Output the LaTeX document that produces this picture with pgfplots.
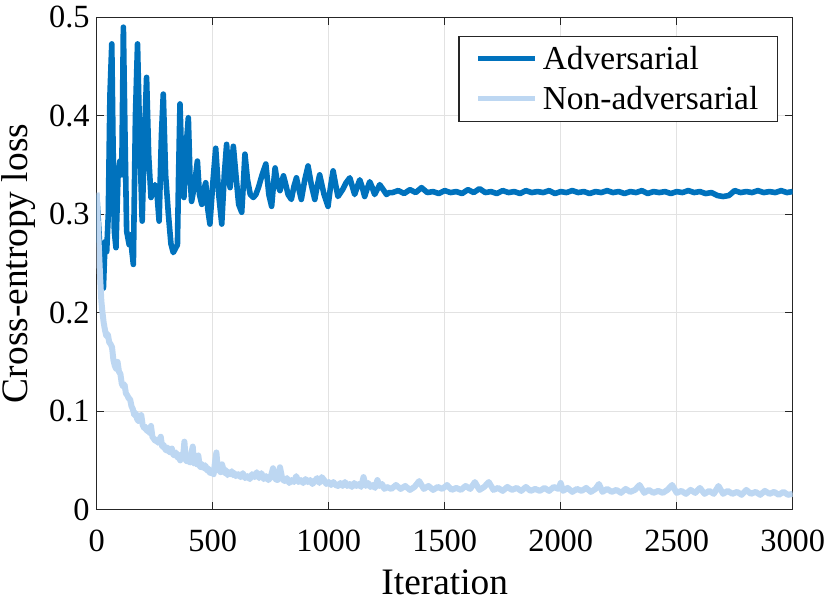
\documentclass[border=0pt]{standalone}
\usepackage{fontspec}
\setmainfont{Liberation Serif}
\setsansfont{Liberation Serif}
\renewcommand{\familydefault}{\rmdefault}
\usepackage{pgfplots}
\pgfplotsset{compat=1.18}
\definecolor{advblue}{RGB}{0,114,189}
\definecolor{nonblue}{RGB}{189,215,242}
\definecolor{axgray}{RGB}{38,38,38}
\definecolor{gridgray}{RGB}{226,226,226}
\begin{document}
\begin{tikzpicture}
\begin{axis}[
  width=348bp, height=246.15bp, scale only axis,
  xmin=0, xmax=3000, ymin=0, ymax=0.5,
  xtick={0,500,1000,1500,2000,2500,3000},
  ytick={0,0.1,0.2,0.3,0.4,0.5},
  scaled x ticks=false, scaled y ticks=false,
  /pgf/number format/1000 sep={},
  /pgf/number format/assume math mode=true,
  tick label style={font=\rmfamily\fontsize{16.25}{19}\selectfont},
  label style={font=\rmfamily\fontsize{18.75}{22}\selectfont},
  xticklabel style={anchor=base, yshift=-21bp},
  xlabel={Iteration}, ylabel={Cross-entropy loss},
  xlabel style={at={(axis description cs:0.5,-0.1728)}, anchor=base},
  ylabel style={at={(axis description cs:-0.0991,0.5)}, anchor=base},
  grid=major, major grid style={gridgray, line width=0.5bp},
  axis line style={axgray, line width=0.6bp},
  tick style={axgray, line width=0.6bp},
  major tick length=3.8bp, tick align=inside,
  legend cell align=left,
  legend style={at={(axis description cs:0.979,0.963)}, anchor=north east,
    draw=axgray, line width=0.6bp, inner xsep=8.3bp, inner ysep=1.25bp,
    font=\rmfamily\fontsize{16.8}{20}\selectfont, row sep=0bp,
    nodes={inner xsep=1.25bp, inner ysep=2bp, text height=13.6bp, text depth=2.4bp},
    /tikz/every odd column/.append style={column sep=1.25bp}},
  legend image code/.code={\draw[#1, line width=2.6bp] (0bp,0bp) -- (28.5bp,0bp);},
]
\coordinate (bl) at (rel axis cs:0,0);
\coordinate (tr) at (rel axis cs:1,1);
\addplot[advblue, line width=2.8bp, line join=round] coordinates {
(0,0.320) (8,0.290) (16,0.255) (24,0.228) (29,0.225) (36,0.272) (43,0.262) (50,0.300)
(57,0.420) (65,0.473) (70,0.380) (76,0.283) (83,0.266) (92,0.340) (100,0.354) (108,0.340)
(115,0.490) (122,0.380) (129,0.283) (140,0.269) (146,0.279) (152,0.262) (158,0.249)
(167,0.400) (176,0.473) (185,0.380) (196,0.293) (206,0.380) (215,0.439) (224,0.360)
(234,0.317) (251,0.330) (259,0.324) (269,0.293) (279,0.380) (287,0.422) (297,0.340)
(309,0.300) (320,0.270) (330,0.261) (348,0.269) (353,0.340) (359,0.412) (367,0.350)
(376,0.317) (386,0.370) (395,0.398) (402,0.340) (409,0.313) (422,0.330) (434,0.354)
(443,0.320) (453,0.310) (462,0.325) (470,0.332) (479,0.305) (488,0.290) (500,0.330)
(513,0.367) (526,0.320) (539,0.290) (550,0.340) (560,0.371) (568,0.340) (575,0.327)
(582,0.350) (589,0.369) (600,0.340) (612,0.310) (625,0.302) (632,0.330) (639,0.361)
(650,0.335) (662,0.320) (675,0.317) (686,0.320) (697,0.327) (713,0.340) (729,0.351)
(742,0.320) (754,0.308) (762,0.330) (769,0.347) (780,0.330) (790,0.324) (797,0.332)
(805,0.339) (815,0.330) (825,0.320) (839,0.315) (850,0.328) (861,0.337) (872,0.325)
(882,0.315) (897,0.335) (911,0.349) (925,0.330) (940,0.315) (950,0.328) (961,0.340)
(980,0.320) (997,0.308) (1008,0.328) (1019,0.344) (1030,0.330) (1040,0.318) (1060,0.325)
(1075,0.332) (1091,0.337) (1102,0.328) (1112,0.320) (1123,0.328) (1134,0.335) (1145,0.327)
(1155,0.318) (1166,0.326) (1177,0.333) (1188,0.327) (1198,0.320) (1209,0.325) (1220,0.330)
(1235,0.325) (1249,0.320) (1260,0.322)
(1275,0.322) (1300,0.324) (1325,0.321) (1350,0.325) (1375,0.322) (1400,0.327) (1425,0.322)
(1450,0.323) (1475,0.321) (1500,0.324) (1525,0.322) (1550,0.323) (1575,0.321) (1600,0.325)
(1625,0.322) (1650,0.326) (1675,0.322) (1700,0.323) (1725,0.321) (1750,0.324) (1775,0.322)
(1800,0.323) (1825,0.321) (1850,0.324) (1875,0.322) (1900,0.323) (1925,0.322) (1950,0.324)
(1975,0.321) (2000,0.323) (2025,0.322) (2050,0.324) (2075,0.322) (2100,0.323) (2125,0.321)
(2150,0.323) (2175,0.322) (2200,0.324) (2225,0.322) (2250,0.323) (2275,0.321) (2300,0.323)
(2325,0.322) (2350,0.324) (2375,0.321) (2400,0.323) (2425,0.322) (2450,0.323) (2475,0.321)
(2500,0.323) (2525,0.322) (2550,0.324) (2575,0.322) (2600,0.323) (2625,0.321) (2650,0.322)
(2675,0.319) (2700,0.318) (2725,0.319) (2750,0.324) (2775,0.322) (2800,0.323) (2825,0.322)
(2850,0.324) (2875,0.322) (2900,0.323) (2925,0.322) (2950,0.324) (2975,0.322) (3000,0.323)
};
\addlegendentry{Adversarial}
\addplot[nonblue, line width=3bp, line join=round] coordinates {
(0,0.322) (5,0.290) (10,0.262) (15,0.235) (20,0.212) (25,0.200) (30,0.190) (36,0.182)
(42,0.176) (48,0.178) (54,0.170) (60,0.168) (66,0.165) (72,0.152) (78,0.146) (84,0.143)
(90,0.150) (96,0.140) (102,0.138) (108,0.128) (114,0.125) (120,0.127) (126,0.118) (132,0.116)
(138,0.113) (144,0.112) (150,0.105) (156,0.102) (162,0.096) (168,0.098) (174,0.092) (180,0.090)
(186,0.091) (192,0.096) (198,0.086) (204,0.083) (210,0.084) (216,0.080) (222,0.082) (228,0.078)
(234,0.085) (240,0.074) (246,0.072) (252,0.070) (258,0.071) (264,0.068) (270,0.070) (276,0.074)
(282,0.064) (288,0.066) (294,0.062) (300,0.060) (306,0.063) (312,0.059) (318,0.058) (324,0.062)
(330,0.056) (336,0.055) (342,0.058) (348,0.053) (354,0.054) (360,0.050) (366,0.056) (372,0.052)
(378,0.069) (384,0.050) (390,0.049) (396,0.051) (402,0.048) (408,0.057) (414,0.064) (420,0.047)
(426,0.050) (432,0.046) (438,0.055) (444,0.044) (450,0.043) (456,0.046) (462,0.042) (468,0.045)
(474,0.040) (480,0.042) (486,0.038) (492,0.037) (498,0.040) (504,0.036) (510,0.048) (516,0.058)
(522,0.040) (528,0.044) (534,0.038) (540,0.046) (546,0.041) (552,0.037) (558,0.040) (564,0.035)
(570,0.038) (576,0.036) (582,0.039) (588,0.035) (594,0.037) (600,0.034) (610,0.036) (620,0.033)
(630,0.037) (640,0.032) (650,0.034) (660,0.031) (670,0.036) (680,0.033) (690,0.038) (700,0.032)
(710,0.037) (720,0.031) (730,0.034) (740,0.030) (750,0.033) (760,0.042) (770,0.031) (780,0.030)
(790,0.043) (800,0.031) (810,0.029) (820,0.032) (830,0.027) (840,0.030) (850,0.028) (860,0.034)
(870,0.028) (880,0.030) (890,0.027) (900,0.031) (910,0.028) (920,0.030) (930,0.026) (940,0.029)
(950,0.032) (960,0.027) (970,0.033) (980,0.030) (990,0.026) (1000,0.028) (1010,0.025) (1020,0.028)
(1030,0.025) (1040,0.024) (1050,0.027) (1060,0.024) (1070,0.028) (1080,0.024) (1090,0.026)
(1100,0.023) (1110,0.027) (1120,0.024) (1130,0.026) (1140,0.023) (1150,0.033) (1160,0.024)
(1170,0.027) (1180,0.023) (1190,0.025) (1200,0.022) (1210,0.030) (1220,0.024) (1230,0.026)
(1240,0.021) (1250,0.023) (1270,0.021) (1290,0.025) (1310,0.021) (1330,0.024) (1350,0.020)
(1370,0.023) (1390,0.029) (1410,0.021) (1430,0.024) (1450,0.020) (1470,0.023) (1490,0.021)
(1510,0.025) (1530,0.020) (1550,0.022) (1570,0.020) (1590,0.024) (1610,0.021) (1630,0.028)
(1650,0.020) (1670,0.023) (1690,0.028) (1710,0.020) (1730,0.022) (1750,0.019) (1770,0.023)
(1790,0.020) (1810,0.022) (1830,0.019) (1850,0.023) (1870,0.019) (1890,0.021) (1910,0.019)
(1930,0.022) (1950,0.019) (1970,0.023) (1990,0.021) (2000,0.027) (2010,0.019) (2030,0.022)
(2050,0.018) (2070,0.021) (2090,0.019) (2110,0.022) (2130,0.018) (2150,0.021) (2165,0.026)
(2180,0.018) (2200,0.021) (2220,0.018) (2240,0.020) (2260,0.017) (2280,0.021) (2300,0.018)
(2320,0.020) (2340,0.025) (2360,0.017) (2380,0.020) (2400,0.017) (2420,0.019) (2440,0.017)
(2460,0.020) (2480,0.025) (2500,0.017) (2520,0.019) (2540,0.016) (2560,0.020) (2580,0.017)
(2600,0.022) (2620,0.016) (2640,0.019) (2660,0.016) (2680,0.024) (2700,0.016) (2720,0.019)
(2740,0.016) (2760,0.018) (2780,0.015) (2800,0.020) (2820,0.016) (2840,0.018) (2860,0.015)
(2880,0.019) (2900,0.016) (2920,0.018) (2940,0.015) (2960,0.018) (2980,0.015) (3000,0.016)
};
\addlegendentry{Non-adversarial}
\end{axis}
\pgfresetboundingbox
\path ([xshift=-48.35bp,yshift=-45.85bp]bl) rectangle ([xshift=19.15bp,yshift=8.65bp]tr);
\end{tikzpicture}
\end{document}
